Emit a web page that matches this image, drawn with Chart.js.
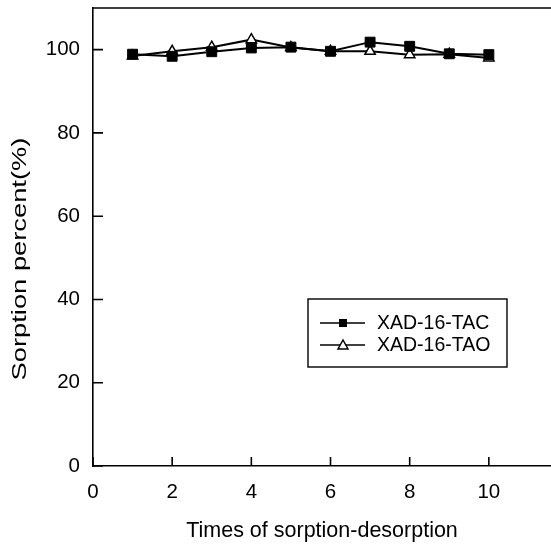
<!DOCTYPE html>
<html>
<head>
<meta charset="utf-8">
<script src="https://cdn.jsdelivr.net/npm/chart.js@4/dist/chart.umd.min.js"></script>
<style>
  html, body { margin: 0; padding: 0; background: #fff; }
  #wrap { width: 551px; height: 544px; }
</style>
</head>
<body>
<div id="wrap"><canvas id="chart" width="551" height="544"></canvas></div>
<script>
const cycles = [1, 2, 3, 4, 5, 6, 7, 8, 9, 10];
const tacValues = [98.9, 98.4, 99.5, 100.4, 100.6, 99.6, 101.8, 100.8, 99.0, 98.8];
const taoValues = [98.5, 99.6, 100.6, 102.4, 100.5, 99.6, 99.6, 98.8, 98.9, 98.0];
const xTicks = [0, 2, 4, 6, 8, 10];
const yTicks = [0, 20, 40, 60, 80, 100];
const yTitle = "Sorption percent(%)";

const FONT = "'Liberation Sans', Arial, sans-serif";

// inward ticks, top frame line, y title and a boxed legend like the original plot
const framePlugin = {
  id: "frame",
  afterDraw(chart) {
    const ctx = chart.ctx;
    const a = chart.chartArea;
    const xs = chart.scales.x, ys = chart.scales.y;
    ctx.save();
    ctx.strokeStyle = "#000";
    ctx.lineWidth = 1.6;
    ctx.beginPath();
    ctx.moveTo(a.left, a.top);
    ctx.lineTo(a.right, a.top);
    for (const v of xTicks) {
      const px = xs.getPixelForValue(v);
      ctx.moveTo(px, a.bottom);
      ctx.lineTo(px, a.bottom - 9);
    }
    for (const v of yTicks) {
      const py = ys.getPixelForValue(v);
      ctx.moveTo(a.left, py);
      ctx.lineTo(a.left + 10, py);
    }
    ctx.stroke();

    // y title, stretched along its length like the scanned figure
    ctx.save();
    ctx.translate(20, (a.top + a.bottom) / 2 + 22);
    ctx.rotate(-Math.PI / 2);
    ctx.scale(1.3, 1);
    ctx.fillStyle = "#000";
    ctx.font = "21px " + FONT;
    ctx.textAlign = "center";
    ctx.textBaseline = "middle";
    ctx.fillText(yTitle, 0, 0);
    ctx.restore();

    // legend box
    const bx = 308, by = 299, bw = 199, bh = 68;
    ctx.lineWidth = 1.4;
    ctx.strokeRect(bx, by, bw, bh);
    chart.data.datasets.forEach((ds, i) => {
      const y = by + 24 + i * 22;
      ctx.lineWidth = 1.5;
      ctx.beginPath();
      ctx.moveTo(bx + 12, y);
      ctx.lineTo(bx + 57, y);
      ctx.stroke();
      const cx = bx + 35;
      if (ds.pointStyle === "rect") {
        ctx.fillStyle = "#000";
        ctx.fillRect(cx - 4, y - 4, 8, 8);
      } else {
        ctx.fillStyle = "#fff";
        ctx.beginPath();
        ctx.moveTo(cx, y - 5);
        ctx.lineTo(cx + 5, y + 4);
        ctx.lineTo(cx - 5, y + 4);
        ctx.closePath();
        ctx.fill();
        ctx.stroke();
      }
      ctx.fillStyle = "#000";
      ctx.font = "19.5px " + FONT;
      ctx.textBaseline = "middle";
      ctx.fillText(ds.label, bx + 69, y + 1);
    });
    ctx.restore();
  }
};

new Chart(document.getElementById("chart"), {
  type: "scatter",
  data: {
    datasets: [
      {
        label: "XAD-16-TAC",
        data: cycles.map((c, i) => ({ x: c, y: tacValues[i] })),
        showLine: true,
        borderColor: "#000",
        borderWidth: 2,
        backgroundColor: "#000",
        pointStyle: "rect",
        pointRadius: 7,
        pointBorderWidth: 1
      },
      {
        label: "XAD-16-TAO",
        data: cycles.map((c, i) => ({ x: c, y: taoValues[i] })),
        showLine: true,
        borderColor: "#000",
        borderWidth: 2,
        backgroundColor: "#fff",
        pointStyle: "triangle",
        pointRadius: 6,
        pointBorderWidth: 1.5
      }
    ]
  },
  options: {
    responsive: false,
    animation: false,
    layout: { autoPadding: false, padding: { top: 8, right: 0, left: 0, bottom: 0 } },
    plugins: { legend: { display: false }, tooltip: { enabled: false } },
    scales: {
      x: {
        type: "linear",
        min: 0,
        max: 11.57,
        afterBuildTicks: (s) => { s.ticks = xTicks.map(v => ({ value: v })); },
        afterFit: (s) => {
          s.height = 78;
          s.paddingLeft = 0; s.paddingRight = 0; s.paddingTop = 0; s.paddingBottom = 0;
        },
        grid: { display: false, drawTicks: false },
        border: { display: true, color: "#000", width: 1.6 },
        ticks: { color: "#000", padding: 14, font: { family: FONT, size: 20.5 } },
        title: {
          display: true,
          text: "Times of sorption-desorption",
          color: "#000",
          font: { family: FONT, size: 21.5 },
          padding: { top: 4, bottom: 0 }
        }
      },
      y: {
        min: 0,
        max: 110,
        afterBuildTicks: (s) => { s.ticks = yTicks.map(v => ({ value: v })); },
        afterFit: (s) => {
          s.width = 93;
          s.paddingLeft = 0; s.paddingRight = 0; s.paddingTop = 0; s.paddingBottom = 0;
        },
        grid: { display: false, drawTicks: false },
        border: { display: true, color: "#000", width: 1.6 },
        ticks: { color: "#000", padding: 13, font: { family: FONT, size: 20.5 } },
        title: { display: false }
      }
    }
  },
  plugins: [framePlugin]
});
</script>
</body>
</html>
